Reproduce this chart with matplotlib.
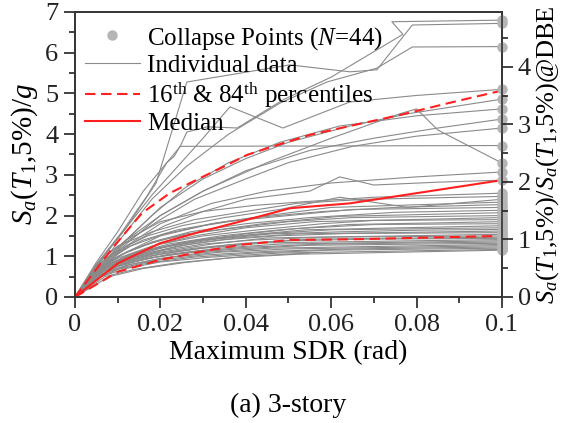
import matplotlib
matplotlib.use("Agg")
import matplotlib.pyplot as plt
from matplotlib.ticker import MultipleLocator

plt.rcParams["font.family"] = ["Liberation Serif", "DejaVu Serif"]
plt.rcParams["mathtext.fontset"] = "custom"
plt.rcParams["mathtext.rm"] = "Liberation Serif"
plt.rcParams["mathtext.it"] = "Liberation Serif:italic"

# Sa at DBE level (g), gives the right-hand axis scale
sa_dbe = 1.413

# individual IDA curves: (max SDR, Sa/g), last point = collapse
curves = [
    ([0, .005, .010, .016, .0246, .0262, .031, .038, .0487, .060, .0768, .0742, .1],
     [0, .85, 1.6, 2.6, 3.69, 4.05, 4.18, 4.15, 4.84, 5.4, 6.45, 6.76, 6.80]),
    ([0, .006, .012, .019, .0262, .0503, .0644, .0707, .079, .1],
     [0, .9, 1.7, 2.8, 5.28, 5.70, 5.53, 5.58, 6.68, 6.72]),
    ([0, .006, .012, .018, .026, .036, .048, .059, .0707, .079, .1],
     [0, .8, 1.6, 2.4, 3.2, 4.0, 4.76, 5.28, 5.62, 6.14, 6.15]),
    ([0, .006, .012, .018, .024, .030, .0363, .0487, .0644, .080, .1],
     [0, .9, 1.7, 2.5, 3.2, 3.9, 4.67, 4.15, 4.79, 4.95, 5.10]),
    ([0, .006, .012, .020, .030, .040, .050, .0644, .078, .1],
     [0, .8, 1.4, 2.2, 2.9, 3.4, 3.8, 4.2, 4.5, 4.86]),
    ([0, .006, .012, .018, .026, .036, .048, .062, .080, .1],
     [0, .75, 1.4, 2.0, 2.7, 3.3, 3.8, 4.2, 4.45, 4.62]),
    ([0, .006, .012, .020, .030, .040, .055, .070, .085, .1],
     [0, .7, 1.3, 2.0, 2.6, 3.1, 3.6, 3.9, 4.15, 4.37]),
    ([0, .006, .012, .020, .028, .040, .050, .065, .080, .1],
     [0, .75, 1.35, 1.9, 2.4, 2.9, 3.3, 3.7, 3.95, 4.15]),
    ([0, .005, .011, .017, .0215, .0232, .0246, .1],
     [0, .8, 1.6, 2.5, 3.3, 3.45, 3.70, 3.72]),
    ([0, .006, .012, .020, .030, .045, .060, .0761, .080, .085, .1],
     [0, .8, 1.4, 2.0, 2.6, 3.3, 3.9, 4.5, 4.62, 4.1, 3.29]),
    ([0, .006, .012, .020, .032, .045, .060, .080, .1],
     [0, .7, 1.25, 1.8, 2.3, 2.6, 2.8, 2.95, 3.07]),
    ([0, .007, .013, .021, .030, .040, .055, .062, .070, .085, .1],
     [0, .8, 1.3, 1.75, 2.1, 2.4, 2.6, 2.95, 2.75, 2.82, 2.87]),
    ([0, .006, .012, .020, .030, .042, .055, .070, .085, .1],
     [0, .9, 1.4, 1.85, 2.1, 2.25, 2.35, 2.45, 2.50, 2.55]),
    ([0, .005, .010, .018, .028, .040, .052, .068, .1],
     [0, .8, 1.25, 1.6, 1.9, 2.1, 2.3, 2.4, 2.47]),
    ([0, .006, .011, .017, .025, .035, .048, .062, .078, .1],
     [0, .85, 1.2, 1.5, 1.75, 1.95, 2.15, 2.45, 2.2, 2.40]),
    ([0, .006, .012, .020, .032, .045, .060, .1],
     [0, .7, 1.1, 1.5, 1.8, 2.0, 2.2, 2.33]),
    ([0, .007, .013, .021, .030, .042, .058, .075, .1],
     [0, .85, 1.25, 1.55, 1.75, 1.95, 2.1, 2.2, 2.27]),
    ([0, .005, .010, .016, .024, .035, .050, .065, .1],
     [0, .75, 1.1, 1.4, 1.65, 1.85, 2.0, 2.15, 2.20]),
    ([0, .006, .011, .018, .027, .040, .055, .075, .1],
     [0, .7, 1.05, 1.35, 1.6, 1.8, 1.95, 2.08, 2.13]),
    ([0, .007, .012, .020, .030, .044, .062, .1],
     [0, .8, 1.1, 1.4, 1.6, 1.8, 1.98, 2.07]),
    ([0, .006, .010, .017, .026, .038, .050, .065, .1],
     [0, .75, 1.0, 1.3, 1.55, 1.7, 1.85, 1.95, 2.0]),
    ([0, .005, .010, .018, .028, .040, .056, .1],
     [0, .65, .95, 1.25, 1.5, 1.7, 1.85, 1.95]),
    ([0, .006, .012, .020, .030, .043, .058, .070, .1],
     [0, .7, 1.0, 1.3, 1.5, 1.65, 1.8, 1.88, 1.90]),
    ([0, .007, .013, .022, .034, .048, .064, .1],
     [0, .75, 1.05, 1.3, 1.5, 1.65, 1.78, 1.85]),
    ([0, .006, .011, .019, .029, .040, .052, .070, .1],
     [0, .7, .95, 1.2, 1.4, 1.55, 1.68, 1.78, 1.80]),
    ([0, .005, .010, .017, .026, .038, .054, .1],
     [0, .6, .9, 1.15, 1.35, 1.5, 1.65, 1.75]),
    ([0, .006, .012, .020, .030, .044, .060, .1],
     [0, .65, .95, 1.2, 1.4, 1.55, 1.65, 1.70]),
    ([0, .007, .013, .022, .033, .046, .062, .080, .1],
     [0, .75, 1.0, 1.25, 1.42, 1.55, 1.6, 1.64, 1.66]),
    ([0, .006, .011, .018, .027, .038, .052, .1],
     [0, .65, .9, 1.1, 1.3, 1.45, 1.55, 1.62]),
    ([0, .005, .010, .016, .024, .034, .047, .064, .1],
     [0, .6, .85, 1.05, 1.25, 1.4, 1.5, 1.56, 1.58]),
    ([0, .006, .012, .020, .032, .045, .1],
     [0, .65, .9, 1.1, 1.3, 1.45, 1.54]),
    ([0, .007, .013, .021, .030, .042, .058, .1],
     [0, .7, .95, 1.15, 1.3, 1.4, 1.47, 1.50]),
    ([0, .006, .011, .018, .028, .040, .055, .1],
     [0, .6, .85, 1.05, 1.2, 1.32, 1.42, 1.47]),
    ([0, .005, .010, .017, .026, .036, .050, .068, .1],
     [0, .55, .8, 1.0, 1.15, 1.28, 1.38, 1.42, 1.44]),
    ([0, .006, .012, .020, .030, .045, .1],
     [0, .6, .85, 1.05, 1.2, 1.33, 1.41]),
    ([0, .007, .013, .022, .034, .048, .1],
     [0, .65, .85, 1.05, 1.2, 1.3, 1.38]),
    ([0, .006, .011, .019, .028, .040, .058, .1],
     [0, .55, .8, .98, 1.12, 1.22, 1.3, 1.35]),
    ([0, .005, .010, .017, .026, .038, .055, .1],
     [0, .5, .75, .95, 1.08, 1.18, 1.27, 1.32]),
    ([0, .006, .012, .020, .031, .046, .1],
     [0, .55, .78, .95, 1.1, 1.2, 1.29]),
    ([0, .007, .013, .022, .034, .050, .1],
     [0, .6, .8, .97, 1.1, 1.18, 1.26]),
    ([0, .006, .011, .019, .030, .045, .065, .1],
     [0, .5, .72, .9, 1.03, 1.12, 1.18, 1.23]),
    ([0, .005, .010, .018, .028, .042, .060, .1],
     [0, .45, .68, .85, .98, 1.08, 1.15, 1.20]),
    ([0, .006, .012, .020, .032, .048, .1],
     [0, .5, .7, .86, .98, 1.08, 1.17]),
    ([0, .007, .014, .024, .036, .052, .1],
     [0, .5, .68, .84, .96, 1.05, 1.15]),
]

# one record that stops early (no collapse point)
short_sdr = [0, .008, .016, .026, .040, .055]
short_sa = [0, .5, .7, .85, 1.0, 1.08]

p84_sdr = [0, .009, .0157, .0222, .0293, .0356, .0403, .0473, .055, .0644, .0761, .0878, .1]
p84_sa = [0, 1.23, 2.06, 2.55, 2.92, 3.24, 3.49, 3.73, 3.98, 4.2, 4.47, 4.77, 5.07]
med_sdr = [0, .0101, .0199, .0293, .0386, .0504, .0644, .1]
med_sa = [0, .83, 1.32, 1.60, 1.85, 2.18, 2.30, 2.87]
p16_sdr = [0, .0101, .0199, .0293, .0386, .0504, .0667, .1]
p16_sa = [0, .62, .91, 1.11, 1.28, 1.40, 1.42, 1.50]

fig = plt.figure(figsize=(5.71, 4.23), dpi=100)
ax = fig.add_axes([0.1313, 0.2979, 0.7478, 0.6738])

gray = "#8a8a8a"
for x, y in curves:
    ax.plot(x, y, color=gray, lw=0.8, zorder=2)
ax.plot(short_sdr, short_sa, color=gray, lw=0.8, zorder=2)

col_x = [c[0][-1] for c in curves]
col_y = [c[1][-1] for c in curves]
ax.plot(col_x, col_y, "o", color="#b5b5b5", ms=7.5, mew=0, clip_on=False, zorder=4,
        label="Collapse Points ($N$=44)")
ax.plot([], [], color=gray, lw=0.8, label="Individual data")
ax.plot(p84_sdr, p84_sa, "--", color="#ff2020", lw=1.5, dashes=(5, 2.7), zorder=3,
        label="16$^{\\rm th}$ & 84$^{\\rm th}$ percentiles")
ax.plot(p16_sdr, p16_sa, "--", color="#ff2020", lw=1.5, dashes=(5, 2.7), zorder=3)
ax.plot(med_sdr, med_sa, "-", color="#ff2020", lw=1.5, zorder=3, label="Median")

ax.set_xlim(0, 0.1)
ax.set_ylim(0, 7)
ax.xaxis.set_minor_locator(MultipleLocator(0.01))
ax.yaxis.set_major_locator(MultipleLocator(1))
ax.yaxis.set_minor_locator(MultipleLocator(0.5))
ax.set_xticks([0, 0.02, 0.04, 0.06, 0.08, 0.1])
ax.set_xticklabels(["0", "0.02", "0.04", "0.06", "0.08", "0.1"])

ax2 = ax.twinx()
ax2.set_ylim(0, 7 / sa_dbe)
ax2.yaxis.set_major_locator(MultipleLocator(1))
ax2.yaxis.set_minor_locator(MultipleLocator(0.5))

for a in (ax, ax2):
    a.tick_params(which="major", direction="out", length=8, width=1.2, labelsize=19, colors="#222222")
    a.tick_params(which="minor", direction="out", length=4.5, width=1.2, colors="#222222")
    for s in a.spines.values():
        s.set_linewidth(1.2)
        s.set_color("#333333")
ax.tick_params(axis="both", pad=4)

ax.set_xlabel("Maximum SDR (rad)", fontsize=20, labelpad=3)
ax.set_ylabel("$S_a(T_1$,5%)/$g$", fontsize=21, labelpad=4)
ax2.set_ylabel("$S_a(T_1$,5%)/$S_a(T_1$,5%)@DBE", fontsize=19, labelpad=2)

ax.legend(loc="upper left", frameon=False, fontsize=18, handlelength=2.2,
          handletextpad=0.3, labelspacing=0.12, borderaxespad=0.0,
          bbox_to_anchor=(0.0, 0.99))

fig.text(0.505, 1 - 405 / 423, "(a) 3-story", fontsize=20, ha="center", va="center")

fig.savefig("out.png", dpi=100)
